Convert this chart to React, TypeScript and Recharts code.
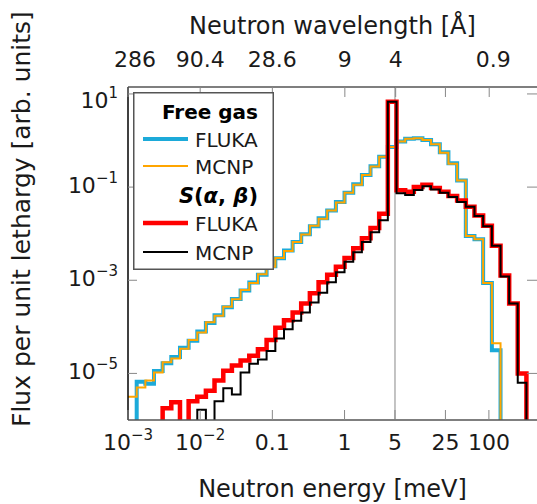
import React from 'react'
import { LineChart, Line, XAxis, YAxis, ReferenceLine, Legend, Label } from 'recharts'

// histogram bin edges, meV (equal lethargy bins)
const binEdges = [
  0.001, 0.00132, 0.00174, 0.00229, 0.00302, 0.00398, 0.00525, 0.00692, 0.00912, 0.012,
  0.0158, 0.0209, 0.0275, 0.0363, 0.0479, 0.0631, 0.0832, 0.11, 0.145, 0.191,
  0.251, 0.331, 0.437, 0.575, 0.759, 1.0, 1.32, 1.74, 2.29, 3.02,
  3.98, 5.25, 6.92, 9.12, 12.0, 15.8, 20.9, 27.5, 36.3, 47.9,
  63.1, 83.2, 110, 145, 191, 251, 331, 437,
]

// log10 of flux per bin, null = below the axis
const fgFlukaLog = [
  null, -5.18, -5.22, -4.95, -4.78, -4.65, -4.45, -4.3, -4.1, -3.92,
  -3.75, -3.58, -3.4, -3.22, -3.05, -2.88, -2.7, -2.53, -2.36, -2.18,
  -2.01, -1.84, -1.67, -1.5, -1.32, -1.12, -0.94, -0.74, -0.55, -0.35,
  -0.14, -0.02, 0.04, 0.05, 0.01, -0.08, -0.25, -0.49, -0.86, -2.05,
  -2.12, -3.06, -4.5, null, null, null, null,
]
const fgMcnpLog = [
  -5.5, -5.3, -5.15, -4.98, -4.76, -4.68, -4.47, -4.28, -4.12, -3.9,
  -3.76, -3.57, -3.41, -3.21, -3.06, -2.87, -2.71, -2.52, -2.37, -2.18,
  -2.02, -1.83, -1.68, -1.5, -1.33, -1.12, -0.95, -0.74, -0.56, -0.35,
  -0.14, -0.02, 0.04, 0.05, 0.01, -0.08, -0.26, -0.5, -0.86, -2.05,
  -2.12, -3.06, -4.35, null, null, null, null,
]
const sabFlukaLog = [
  null, null, null, null, -5.75, -5.62, null, -5.6, -5.5, -5.37,
  -5.15, -4.94, -4.83, -4.72, -4.62, -4.48, -4.28, -4.02, -3.86, -3.69,
  -3.5, -3.28, -3.04, -2.88, -2.71, -2.52, -2.31, -2.1, -1.88, -1.57,
  0.83, -1.07, -1.1, -1.0, -0.95, -1.02, -1.1, -1.19, -1.29, -1.42,
  -1.61, -1.83, -2.26, -2.9, -3.5, -5.0, null,
]
const sabMcnpLog = [
  null, null, null, null, null, null, null, null, -5.78, null,
  -5.6, -5.32, -5.45, -4.98, -4.79, -4.7, -4.52, -4.25, -4.05, -3.87,
  -3.69, -3.48, -3.27, -3.04, -2.83, -2.6, -2.4, -2.18, -1.97, -1.71,
  0.83, -1.13, -1.17, -1.06, -0.98, -1.05, -1.12, -1.21, -1.32, -1.42,
  -1.62, -1.84, -2.26, -2.92, -3.5, -5.2, null,
]

const energyTicks = [0.001, 0.01, 0.1, 1, 5, 25, 100]
const energyLabels = [['10', '−3'], ['10', '−2'], ['0.1', ''], ['1', ''], ['5', ''], ['25', ''], ['100', '']]
const lambdaTicks = [0.001, 0.01, 0.1, 1.01, 5.11, 25, 101]
const lambdaLabels = ['286', '90.4', '28.6', '9', '4', '', '0.9']
const fluxTicks = [10, 0.1, 0.001, 0.00001]
const fluxExponents = ['1', '−1', '−3', '−5']

const series = [
  { key: 'fgFluka', name: 'FLUKA', group: 'Free gas', color: '#1CAAD9', width: 4 },
  { key: 'fgMcnp', name: 'MCNP', group: 'Free gas', color: '#FFA500', width: 2 },
  { key: 'sabFluka', name: 'FLUKA', group: 'sab', color: '#FF0000', width: 4.5 },
  { key: 'sabMcnp', name: 'MCNP', group: 'sab', color: '#000000', width: 2 },
]

const FLOOR = 1e-9
const toFlux = (v: number | null) => (v === null ? FLOOR : Math.pow(10, v))
const lastBin = fgFlukaLog.length - 1
const data = binEdges.map((e, i) => {
  const b = Math.min(i, lastBin)
  return {
    e,
    fgFluka: toFlux(fgFlukaLog[b]),
    fgMcnp: toFlux(fgMcnpLog[b]),
    sabFluka: toFlux(sabFlukaLog[b]),
    sabMcnp: toFlux(sabMcnpLog[b]),
  }
})

const W = 537
const H = 504
const PLOT = { left: 128, top: 87, right: 537, bottom: 420 }
const FONT = '"DejaVu Sans", sans-serif'
const TXT = '#1a1a1a'

function EnergyTick(props: any) {
  const { x, index } = props
  const [base, exp] = energyLabels[index] ?? ['', '']
  return (
    <g>
      <line x1={x} x2={x} y1={PLOT.bottom} y2={PLOT.bottom - 10} stroke="#888" strokeWidth={1} />
      <text x={x} y={PLOT.bottom + 30} textAnchor="middle" fontSize={22} fill={TXT} fontFamily={FONT}>
        {base}
        {exp && <tspan dy={-10} fontSize={15}>{exp}</tspan>}
      </text>
    </g>
  )
}

function LambdaTick(props: any) {
  const { x, index } = props
  const shift = index === 0 ? 7 : index === lambdaLabels.length - 1 ? 4 : 0
  return (
    <g>
      <line x1={x} x2={x} y1={PLOT.top} y2={PLOT.top + 10} stroke="#888" strokeWidth={1} />
      <text x={x + shift} y={PLOT.top - 20} textAnchor="middle" fontSize={22} fill={TXT} fontFamily={FONT}>
        {lambdaLabels[index]}
      </text>
    </g>
  )
}

function FluxTick(props: any) {
  const { y, index } = props
  const dy = index === 0 ? 14 : 6
  return (
    <g>
      <line x1={PLOT.left} x2={PLOT.left + 9} y1={y} y2={y} stroke="#888" strokeWidth={1} />
      <line x1={PLOT.right - 10} x2={PLOT.right} y1={y} y2={y} stroke="#888" strokeWidth={1} />
      <text x={PLOT.left - 10} y={y + dy} textAnchor="end" fontSize={22} fill={TXT} fontFamily={FONT}>
        10<tspan dy={-10} fontSize={15}>{fluxExponents[index]}</tspan>
      </text>
    </g>
  )
}

function GroupHeader({ group, y }: { group: string; y: number }) {
  if (group === 'sab') {
    return (
      <text x={125} y={y + 8} textAnchor="end" fontSize={21} fontWeight="bold" fill="#000" fontFamily={FONT}>
        <tspan fontStyle="italic">S</tspan>(<tspan fontStyle="italic">α</tspan>, <tspan fontStyle="italic">β</tspan>)
      </text>
    )
  }
  return (
    <text x={125} y={y + 8} textAnchor="end" fontSize={20} fontWeight="bold" fill="#000" fontFamily={FONT}>
      {group}
    </text>
  )
}

function LegendBox(props: any) {
  const payload: any[] = props.payload ?? []
  const rowY = [19, 47, 74, 103, 131, 160]
  const rows: React.ReactNode[] = []
  let r = 0
  let lastGroup = ''
  series.forEach(meta => {
    const entry = payload.find(p => p.dataKey === meta.key)
    if (!entry) return
    if (meta.group !== lastGroup) {
      rows.push(<GroupHeader key={'h' + meta.group} group={meta.group} y={rowY[r++]} />)
      lastGroup = meta.group
    }
    const y = rowY[r++]
    rows.push(
      <g key={meta.key}>
        <line x1={10} x2={55} y1={y} y2={y} stroke={entry.color} strokeWidth={meta.width} />
        <text x={62} y={y + 8} fontSize={20} fill={TXT} fontFamily={FONT}>{entry.value}</text>
      </g>,
    )
  })
  return (
    <svg width={141} height={178} style={{ display: 'block' }}>
      <rect x={0.75} y={0.75} width={139.5} height={176.5} fill="#fff" stroke="#555" strokeWidth={1.5} />
      {rows}
    </svg>
  )
}

export default function App() {
  return (
    <div style={{ position: 'absolute', left: 0, top: 0, background: '#fff' }}>
      <LineChart width={W} height={H} data={data} margin={{ top: 57, right: 0, bottom: 54, left: 68 }}>
        <XAxis
          xAxisId="e"
          dataKey="e"
          type="number"
          scale="log"
          domain={[0.001, 464]}
          allowDataOverflow
          ticks={energyTicks}
          tick={EnergyTick}
          tickLine={false}
          axisLine={{ stroke: '#555', strokeWidth: 1.5 }}
          height={30}
        >
          <Label value="Neutron energy [meV]" position="bottom" offset={30} fontSize={24} fill={TXT} fontFamily={FONT} />
        </XAxis>
        <XAxis
          xAxisId="lambda"
          orientation="top"
          dataKey="e"
          type="number"
          scale="log"
          domain={[0.001, 464]}
          allowDataOverflow
          ticks={lambdaTicks}
          tick={LambdaTick}
          tickLine={false}
          axisLine={{ stroke: '#555', strokeWidth: 1.5 }}
          height={30}
        >
          <Label value="Neutron wavelength [Å]" position="top" offset={23} fontSize={24} fill={TXT} fontFamily={FONT} />
        </XAxis>
        <YAxis
          yAxisId="flux"
          type="number"
          scale="log"
          domain={[1e-6, 14.1]}
          allowDataOverflow
          ticks={fluxTicks}
          tick={FluxTick}
          tickLine={false}
          axisLine={{ stroke: '#000', strokeWidth: 1.5 }}
          width={60}
        >
          <Label
            content={() => (
              <text transform="translate(30,427) rotate(-90)" fontSize={25} fill={TXT} fontFamily={FONT}>
                Flux per unit lethargy [arb. units]
              </text>
            )}
          />
        </YAxis>
        <ReferenceLine x={5} xAxisId="e" yAxisId="flux" stroke="#888" strokeWidth={1} />
        {series.map(s => (
          <Line
            key={s.key}
            xAxisId="e"
            yAxisId="flux"
            type="stepAfter"
            dataKey={s.key}
            name={s.name}
            stroke={s.color}
            strokeWidth={s.width}
            dot={false}
            activeDot={false}
            isAnimationActive={false}
          />
        ))}
        <Legend
          layout="vertical"
          align="center"
          verticalAlign="middle"
          content={LegendBox}
          wrapperStyle={{ left: 133, top: 92, width: 141, height: 178 }}
        />
      </LineChart>
    </div>
  )
}
